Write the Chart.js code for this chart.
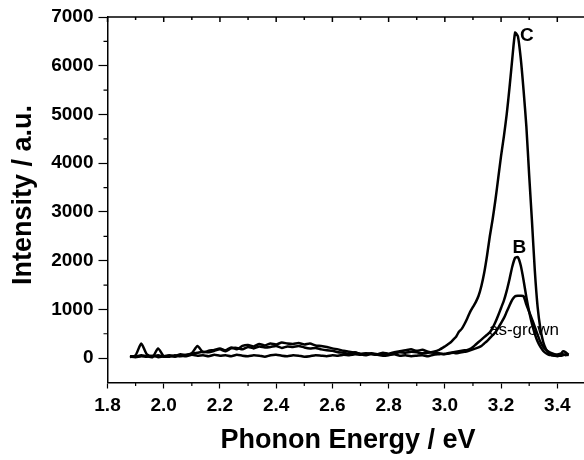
<!DOCTYPE html>
<html>
<head>
<meta charset="utf-8">
<script src="https://cdn.jsdelivr.net/npm/chart.js@4.4.1/dist/chart.umd.min.js"></script>
<style>
  html, body { margin: 0; padding: 0; background: #fff; }
  canvas { display: block; }
</style>
</head>
<body>
<canvas id="plChart" width="584" height="460"></canvas>
<script>
// photon energy grid (eV)
const energy = [
  1.88, 1.90, 1.92, 1.94, 1.96, 1.98, 2.00, 2.02, 2.04, 2.06, 2.08, 2.10, 2.12, 2.14, 2.16, 2.18, 2.20, 2.22, 2.24, 2.26,
  2.28, 2.30, 2.32, 2.34, 2.36, 2.38, 2.40, 2.42, 2.44, 2.46, 2.48, 2.50, 2.52, 2.54, 2.56, 2.58, 2.60, 2.62, 2.64, 2.66,
  2.68, 2.70, 2.72, 2.74, 2.76, 2.78, 2.80, 2.82, 2.84, 2.86, 2.88, 2.90, 2.92, 2.94, 2.96, 2.98, 3.00,
  3.01, 3.02, 3.03, 3.04, 3.05, 3.06, 3.07, 3.08, 3.09, 3.10, 3.11, 3.12, 3.13, 3.14, 3.15, 3.16, 3.17, 3.18, 3.19, 3.20,
  3.21, 3.22, 3.23, 3.24, 3.25, 3.26, 3.27, 3.28, 3.29, 3.30, 3.31, 3.32, 3.33, 3.34, 3.35, 3.36, 3.37, 3.38, 3.39, 3.40,
  3.41, 3.42, 3.43, 3.44
];

const sampleC = [
  20, 60, 300, 80, 40, 60, 30, 50, 40, 80, 60, 100, 250, 120, 150, 170, 200, 160, 220, 180,
  250, 270, 240, 290, 260, 300, 280, 320, 300, 290, 310, 280, 300, 260, 250, 230, 200, 180, 150, 130,
  110, 90, 100, 80, 70, 90, 80, 100, 120, 110, 130, 120, 100, 110, 130, 170, 240,
  280, 320, 380, 440, 540, 600, 700, 820, 950, 1050, 1150, 1280, 1480, 1750, 2100, 2500, 2850, 3250, 3700, 4150,
  4550, 5000, 5550, 6150, 6680, 6600, 6150, 5500, 4750, 3750, 2800, 1800, 1050, 600, 330, 180, 110, 60, 50, 40,
  60, 140, 120, 70
];

const sampleB = [
  40, 30, 60, 40, 20, 200, 40, 30, 60, 40, 70, 90, 110, 130, 120, 150, 180, 140, 200, 210,
  180, 230, 200, 240, 220, 230, 250, 210, 240, 230, 250, 220, 200, 210, 180, 160, 150, 120, 110, 90,
  120, 80, 60, 90, 70, 50, 60, 80, 50, 60, 40, 50, 60, 40, 70, 80, 90,
  100, 110, 120, 130, 140, 150, 160, 170, 190, 230, 280, 330, 380, 430, 480, 530, 620, 740, 880, 1030,
  1180, 1380, 1620, 1880, 2060, 2070, 1900, 1600, 1250, 950, 700, 500, 340, 230, 150, 100, 70, 60, 50, 70,
  50, 60, 80, 60
];

const asGrown = [
  30, 20, 40, 30, 50, 20, 40, 60, 30, 50, 40, 70, 50, 60, 40, 70, 50, 60, 40, 70,
  50, 40, 60, 50, 30, 60, 70, 50, 40, 60, 50, 30, 40, 60, 50, 40, 60, 50, 70, 60,
  80, 70, 90, 100, 80, 110, 90, 120, 140, 160, 180, 150, 170, 130, 110, 100, 80,
  90, 100, 110, 100, 110, 120, 130, 140, 160, 180, 200, 220, 250, 300, 350, 410, 470, 530, 620, 720,
  820, 950, 1080, 1200, 1270, 1280, 1280, 1270, 1100, 950, 800, 640, 480, 330, 230, 170, 130, 100, 80, 70,
  90, 80, 60, 70
];

const seriesNames = ["C", "B", "as-grown"];
const xTitle = "Phonon Energy / eV";
const yTitle = "Intensity / a.u.";

// curve labels, in data units
const curveLabels = [
  { text: "C", x: 3.292, y: 6616, bold: true, align: "center" },
  { text: "B", x: 3.265, y: 2260, bold: true, align: "center" },
  { text: "as-grown", x: 3.157, y: 575, bold: false, align: "left" }
];

const FONT = "Arial, 'Liberation Sans', Helvetica, sans-serif";

function toPoints(ys) {
  return energy.map((e, i) => ({ x: e, y: ys[i] }));
}

const isMajorX = v => Math.round(v * 10) % 2 === 0;
const isMajorY = v => Math.round(v) % 1000 === 0;

const decorPlugin = {
  id: "decor",
  afterDraw(chart) {
    const ctx = chart.ctx;
    const area = chart.chartArea;
    const xs = chart.scales.x;
    const ys = chart.scales.y;
    ctx.save();
    ctx.strokeStyle = "#000";
    ctx.lineWidth = 1.5;

    // top frame line with inward ticks
    ctx.beginPath();
    ctx.moveTo(area.left, area.top);
    ctx.lineTo(area.right, area.top);
    xs.ticks.forEach(t => {
      const px = xs.getPixelForValue(t.value);
      const len = isMajorX(t.value) ? 5 : 3;
      ctx.moveTo(px, area.top);
      ctx.lineTo(px, area.top + len);
    });
    ctx.stroke();

    // minor ticks on bottom and left axes
    ctx.lineWidth = 1.2;
    ctx.beginPath();
    xs.ticks.forEach(t => {
      if (isMajorX(t.value)) return;
      const px = xs.getPixelForValue(t.value);
      ctx.moveTo(px, area.bottom);
      ctx.lineTo(px, area.bottom + 3.5);
    });
    ys.ticks.forEach(t => {
      if (isMajorY(t.value) || t.value < 0) return;
      const py = ys.getPixelForValue(t.value);
      ctx.moveTo(area.left, py);
      ctx.lineTo(area.left - 4, py);
    });
    ctx.stroke();

    // curve labels
    ctx.fillStyle = "#000";
    ctx.textBaseline = "middle";
    curveLabels.forEach(l => {
      ctx.font = (l.bold ? "bold 19px " : "17px ") + FONT;
      ctx.textAlign = l.align;
      ctx.fillText(l.text, xs.getPixelForValue(l.x), ys.getPixelForValue(l.y));
    });

    // axis titles
    ctx.font = "bold 27px " + FONT;
    ctx.textAlign = "center";
    ctx.textBaseline = "alphabetic";
    ctx.fillText(xTitle, 348, 448);
    ctx.translate(31, 195);
    ctx.rotate(-Math.PI / 2);
    ctx.fillText(yTitle, 0, 0);
    ctx.restore();
  }
};

const ctx = document.getElementById("plChart").getContext("2d");

new Chart(ctx, {
  type: "line",
  data: {
    datasets: [sampleC, sampleB, asGrown].map((ys, i) => ({
      label: seriesNames[i],
      data: toPoints(ys),
      borderColor: "#000",
      borderWidth: 2.5,
      pointRadius: 0,
      tension: 0.2,
      fill: false
    }))
  },
  options: {
    responsive: false,
    animation: false,
    layout: { padding: { top: 17, right: 0, left: 0, bottom: 0 } },
    plugins: {
      legend: { display: false },
      tooltip: { enabled: false }
    },
    scales: {
      x: {
        type: "linear",
        min: 1.8,
        max: 3.495,
        afterFit: s => { s.height = 77.5; },
        ticks: {
          stepSize: 0.1,
          includeBounds: false,
          autoSkip: false,
          maxRotation: 0,
          padding: 6,
          color: "#000",
          font: { family: FONT, size: 19, weight: "bold" },
          callback: v => isMajorX(v) ? (Math.round(v * 10) / 10).toFixed(1) : ""
        },
        grid: {
          drawOnChartArea: false,
          tickLength: 6,
          tickWidth: 1.2,
          tickColor: c => (c.tick && isMajorX(c.tick.value)) ? "#000" : "rgba(0,0,0,0)"
        },
        border: { display: true, color: "#000", width: 1.5 }
      },
      y: {
        min: -500,
        max: 7000,
        afterFit: s => { s.width = 107.5; },
        ticks: {
          stepSize: 500,
          autoSkip: false,
          padding: 5,
          color: "#000",
          font: { family: FONT, size: 19, weight: "bold" },
          callback: v => (isMajorY(v) && v >= 0) ? String(Math.round(v)) : ""
        },
        grid: {
          drawOnChartArea: false,
          tickLength: 9,
          tickWidth: 1.2,
          tickColor: c => (c.tick && isMajorY(c.tick.value) && c.tick.value >= 0) ? "#000" : "rgba(0,0,0,0)"
        },
        border: { display: true, color: "#000", width: 1.5 }
      }
    }
  },
  plugins: [decorPlugin]
});
</script>
</body>
</html>
